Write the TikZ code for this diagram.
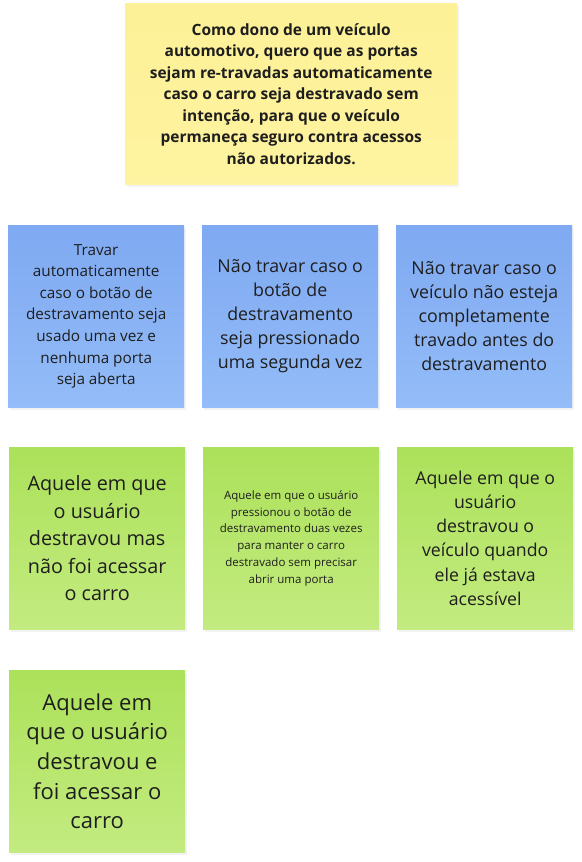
\documentclass[tikz,border=0pt]{standalone}
\usepackage{fontspec}
\setmainfont{Open Sans}
\usetikzlibrary{shadows}
\definecolor{txt}{HTML}{1E1E1E}
\definecolor{ytop}{HTML}{FDF197}
\definecolor{ybot}{HTML}{FEF3A0}
\definecolor{btop}{HTML}{7FA9F1}
\definecolor{bbot}{HTML}{93BCF8}
\definecolor{gtop}{HTML}{ACE15A}
\definecolor{gbot}{HTML}{C3EB80}
\begin{document}
\begin{tikzpicture}[x=1pt,y=-1pt,
  note/.style={anchor=north west, inner sep=0pt, align=center, text=txt,
    minimum width=176pt, minimum height=182pt,
    drop shadow={shadow xshift=1.5pt,shadow yshift=-3pt,opacity=0.10}},
  yellownote/.style={note, top color=ytop, bottom color=ybot, minimum width=332pt, minimum height=181pt},
  bluenote/.style={note, top color=btop, bottom color=bbot},
  greennote/.style={note, top color=gtop, bottom color=gbot}]
\useasboundingbox[fill=white] (0,0) rectangle (581,862);
\node[yellownote, font={\fontsize{15.5}{21.5}\selectfont\bfseries}] (story) at (125,3)
 {Como dono de um veículo\\automotivo, quero que as portas\\sejam re-travadas automaticamente\\caso o carro seja destravado sem\\intenção, para que o veículo\\permaneça seguro contra acessos\\não autorizados.};
\node[bluenote, font={\fontsize{15.3}{21.6}\selectfont}] (b1) at (8,225)
 {Travar\\automaticamente\\caso o botão de\\destravamento seja\\usado uma vez e\\nenhuma porta\\seja aberta};
\node[bluenote, font={\fontsize{17.8}{24}\selectfont}] (b2) at (202,225)
 {Não travar caso o\\botão de\\destravamento\\seja pressionado\\uma segunda vez};
\node[bluenote, font={\fontsize{17.8}{24}\selectfont}] (b3) at (396,225)
 {Não travar caso o\\veículo não esteja\\completamente\\travado antes do\\destravamento};
\node[greennote, font={\fontsize{19.8}{27.5}\selectfont}] (g1) at (9,447)
 {Aquele em que\\o usuário\\destravou mas\\não foi acessar\\o carro};
\node[greennote, font={\fontsize{11.5}{16.8}\selectfont}] (g2) at (203,447)
 {Aquele em que o usuário\\pressionou o botão de\\destravamento duas vezes\\para manter o carro\\destravado sem precisar\\abrir uma porta};
\node[greennote, font={\fontsize{17.7}{24.3}\selectfont}] (g3) at (397,447)
 {Aquele em que o\\usuário\\destravou o\\veículo quando\\ele já estava\\acessível};
\node[greennote, font={\fontsize{22}{29.7}\selectfont}] (g4) at (9,670)
 {Aquele em\\que o usuário\\destravou e\\foi acessar o\\carro};
\end{tikzpicture}
\end{document}
